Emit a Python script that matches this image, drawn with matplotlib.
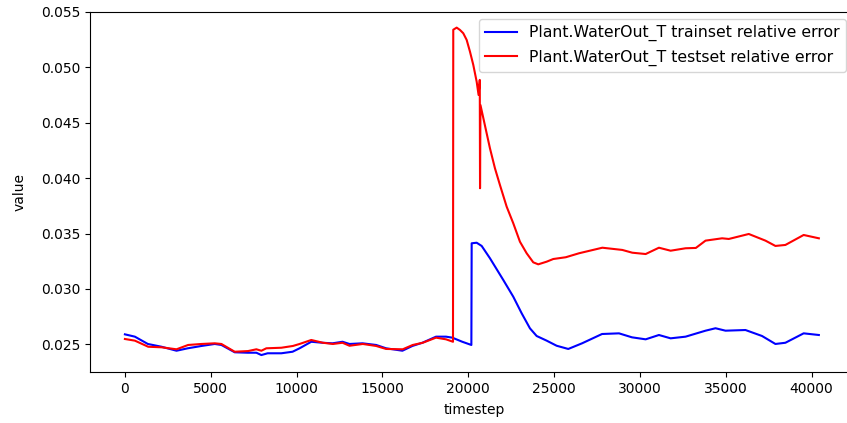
import matplotlib
matplotlib.use("Agg")
import matplotlib.pyplot as plt

train_steps = [0, 581, 1337, 2134, 3006, 3663, 4459, 5233, 5622, 6395, 7151, 7657, 7948, 8314,
               9111, 9767, 10174, 10855, 11512, 12093, 12675, 13081, 13837, 14634, 15215, 16163,
               16744, 17326, 18122, 18704, 19070, 19651, 20180, 20198, 20489, 20780, 21262, 22038,
               22620, 23110, 23593, 23983, 24566, 25148, 25824, 26628, 27791, 28779, 29535, 30332,
               31105, 31785, 32657, 33820, 34401, 34983, 36145, 37111, 37890, 38471, 39535, 40420]
train_err = [0.02590, 0.02569, 0.02503, 0.02478, 0.02442, 0.02464, 0.02485, 0.02503, 0.02494,
             0.02428, 0.02424, 0.02424, 0.02403, 0.02419, 0.02419, 0.02433, 0.02464, 0.02523,
             0.02514, 0.02509, 0.02523, 0.02503, 0.02509, 0.02494, 0.02464, 0.02442, 0.02485,
             0.02514, 0.02569, 0.02569, 0.02560, 0.02523, 0.02494, 0.03412, 0.03417, 0.03388,
             0.03277, 0.03081, 0.02930, 0.02780, 0.02644, 0.02575, 0.02533, 0.02487, 0.02458,
             0.02509, 0.02593, 0.02599, 0.02563, 0.02545, 0.02584, 0.02554, 0.02569, 0.02623,
             0.02645, 0.02623, 0.02629, 0.02575, 0.02503, 0.02514, 0.02599, 0.02584]

test_steps = [0, 581, 1357, 2134, 3006, 3682, 4459, 5233, 5622, 6395, 7171, 7657, 7948, 8238,
              9111, 9786, 10174, 10855, 11531, 12112, 12675, 13081, 13857, 14634, 15215, 16183,
              16764, 17346, 18122, 18704, 19110, 19126, 19324, 19516, 19709, 19906, 20099, 20291,
              20489, 20600, 20670, 20685, 20710, 21262, 21554, 21845, 22235, 22620, 23010, 23400,
              23785, 24076, 24566, 24950, 25680, 26453, 27808, 28971, 29552, 30332, 31105, 31785,
              32657, 33256, 33820, 34785, 35175, 36338, 37308, 37890, 38471, 39535, 40420]
test_err = [0.02548, 0.02533, 0.02478, 0.02473, 0.02455, 0.02494, 0.02503, 0.02509, 0.02503,
            0.02433, 0.02439, 0.02455, 0.02442, 0.02464, 0.02469, 0.02485, 0.02503, 0.02539,
            0.02514, 0.02503, 0.02514, 0.02487, 0.02503, 0.02485, 0.02458, 0.02455, 0.02494,
            0.02514, 0.02560, 0.02545, 0.02523, 0.05340, 0.05359, 0.05338, 0.05308, 0.05248,
            0.05142, 0.05023, 0.04871, 0.04751, 0.04887, 0.03909, 0.04660, 0.04270, 0.04089,
            0.03938, 0.03743, 0.03593, 0.03426, 0.03322, 0.03240, 0.03222, 0.03246, 0.03270,
            0.03286, 0.03322, 0.03372, 0.03352, 0.03327, 0.03315, 0.03372, 0.03345, 0.03367,
            0.03370, 0.03436, 0.03457, 0.03451, 0.03496, 0.03436, 0.03388, 0.03397, 0.03487,
            0.03457]

W, H = 847, 423
fig = plt.figure(figsize=(W / 100, H / 100), dpi=100)
ax = fig.add_axes([90 / W, (H - 372) / H, 768 / W, 360 / H])

ax.plot(train_steps, train_err, color="blue", lw=1.5,
        label="Plant.WaterOut_T trainset relative error")
ax.plot(test_steps, test_err, color="red", lw=1.5,
        label="Plant.WaterOut_T testset relative error")

ax.set_xlim(-2033, 42700)
ax.set_ylim(0.0225, 0.055)
ax.set_xlabel("timestep", labelpad=5)
ax.set_ylabel("value", labelpad=10)
ax.spines["right"].set_visible(False)

ax.legend(loc="upper right", bbox_to_anchor=(846 / W, (H - 19) / H),
          bbox_transform=fig.transFigure, borderaxespad=0, fontsize=11.3)

fig.savefig("out.png", dpi=100)
